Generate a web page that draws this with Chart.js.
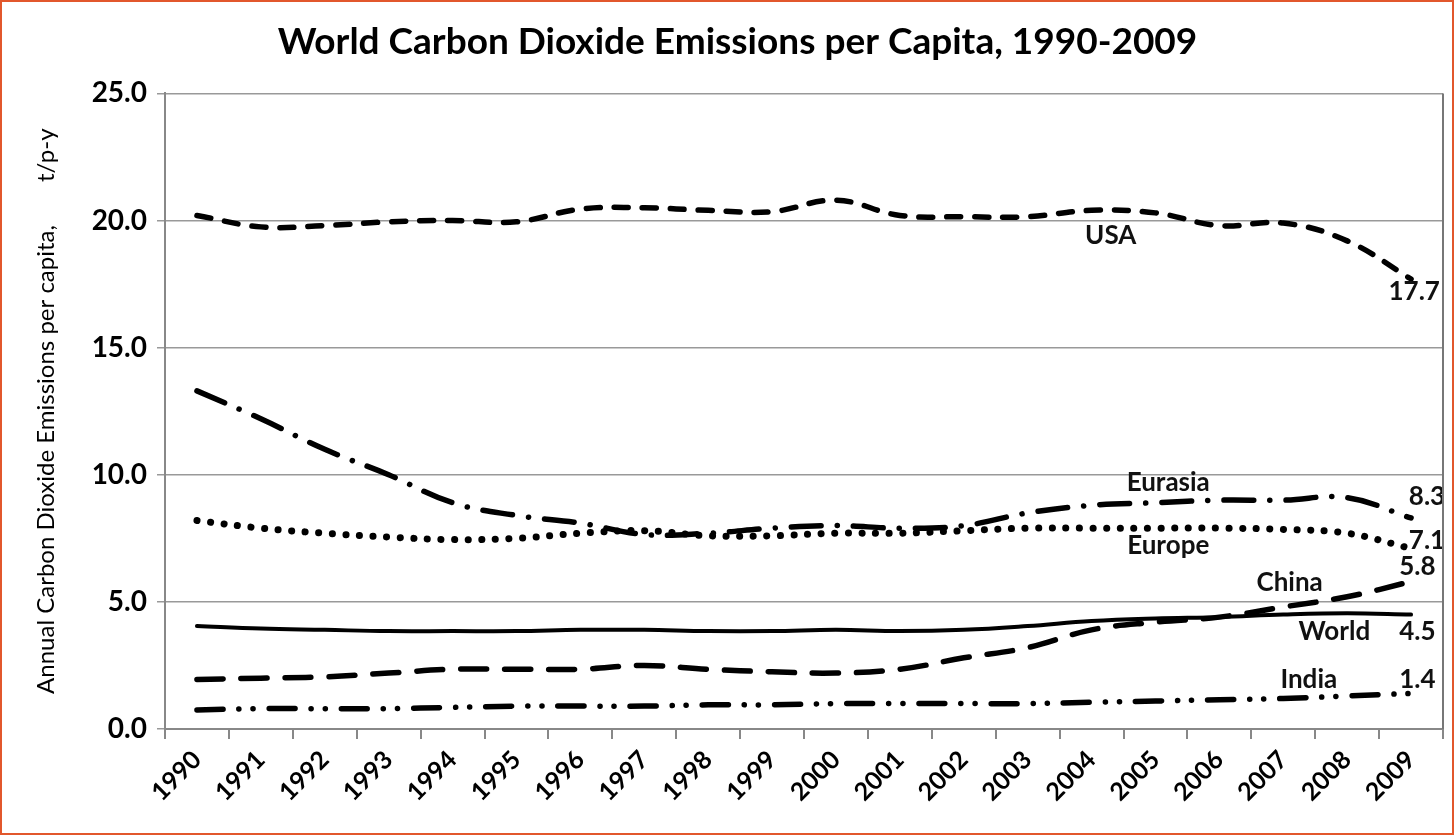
<!DOCTYPE html>
<html>
<head>
<meta charset="utf-8">
<script src="https://cdn.jsdelivr.net/npm/chart.js@4.4.1/dist/chart.umd.min.js"></script>
<style>
  html, body { margin: 0; padding: 0; background: #fff; }
  #wrap { position: absolute; left: 0; top: 0; width: 1450px; height: 831px; border: 2px solid #e2572c; background: #fff; }
</style>
</head>
<body>
<div id="wrap"><canvas id="myChart"></canvas></div>
<script>
const years = ["1990", "1991", "1992", "1993", "1994", "1995", "1996", "1997", "1998", "1999",
  "2000", "2001", "2002", "2003", "2004", "2005", "2006", "2007", "2008", "2009"];

const usa = [20.2, 19.75, 19.8, 19.95, 20.0, 19.95, 20.45, 20.5, 20.4, 20.35,
  20.8, 20.2, 20.15, 20.15, 20.4, 20.3, 19.8, 19.9, 19.2, 17.7];
const eurasia = [13.3, 12.2, 11.0, 10.0, 8.9, 8.4, 8.1, 7.65, 7.7, 7.9,
  8.0, 7.9, 8.0, 8.5, 8.8, 8.9, 9.0, 9.0, 9.1, 8.3];
const europe = [8.2, 7.9, 7.7, 7.55, 7.45, 7.5, 7.7, 7.8, 7.6, 7.6,
  7.7, 7.7, 7.8, 7.9, 7.9, 7.9, 7.9, 7.85, 7.7, 7.1];
const world = [4.05, 3.95, 3.9, 3.85, 3.85, 3.85, 3.9, 3.9, 3.85, 3.85,
  3.9, 3.85, 3.9, 4.05, 4.25, 4.35, 4.4, 4.5, 4.55, 4.5];
const china = [1.95, 2.0, 2.05, 2.2, 2.35, 2.35, 2.35, 2.5, 2.35, 2.25,
  2.2, 2.35, 2.8, 3.2, 3.9, 4.2, 4.4, 4.8, 5.2, 5.8];
const india = [0.75, 0.8, 0.8, 0.8, 0.85, 0.9, 0.9, 0.9, 0.95, 0.95,
  1.0, 1.0, 1.0, 1.0, 1.05, 1.1, 1.15, 1.2, 1.3, 1.4];

const yTicks = [0, 5, 10, 15, 20, 25];

// text labels placed in data units: [text, category position, value]
const notes = [
  ["USA", 14.3, 19.4],
  ["17.7", 19.05, 17.2],
  ["Eurasia", 15.2, 9.7],
  ["8.3", 19.25, 9.15],
  ["Europe", 15.2, 7.2],
  ["7.1", 19.25, 7.4],
  ["China", 17.1, 5.75],
  ["5.8", 19.1, 6.4],
  ["World", 17.8, 3.85],
  ["4.5", 19.1, 3.85],
  ["India", 17.4, 1.95],
  ["1.4", 19.1, 1.95],
];

const FONT = "Lato, 'Open Sans', sans-serif";

const notesPlugin = {
  id: "notes",
  afterDatasetsDraw(chart) {
    const c = chart.ctx;
    const xs = chart.scales.x;
    const ys = chart.scales.y;
    const step = xs.getPixelForValue(1) - xs.getPixelForValue(0);
    c.save();
    c.fillStyle = "#111";
    c.font = "bold 26px " + FONT;
    c.textAlign = "center";
    c.textBaseline = "middle";
    notes.forEach(([t, xi, v]) => {
      c.fillText(t, xs.getPixelForValue(0) + xi * step, ys.getPixelForValue(v));
    });
    // frame on the right side of the plot
    const a = chart.chartArea;
    c.strokeStyle = "#777";
    c.lineWidth = 2;
    c.beginPath();
    c.moveTo(a.right, a.top);
    c.lineTo(a.right, a.bottom);
    c.stroke();
    c.restore();
  },
};

function line(data, width, dash) {
  return {
    data: data,
    borderColor: "#000",
    borderWidth: width,
    borderDash: dash,
    borderCapStyle: "round",
    tension: 0.4,
    pointRadius: 0,
    fill: false,
  };
}

const ctx = document.getElementById("myChart").getContext("2d");

const myChart = new Chart(ctx, {
  type: "line",
  data: {
    labels: years,
    datasets: [
      line(usa, 5.5, [14, 14]),
      line(eurasia, 5.5, [30, 16, 0.1, 16]),
      line(europe, 7, [0.1, 13.5]),
      line(world, 4, []),
      line(china, 5.5, [26, 18]),
      line(india, 5.5, [26, 16, 0.1, 14, 0.1, 16]),
    ],
  },
  plugins: [notesPlugin],
  options: {
    responsive: true,
    maintainAspectRatio: false,
    animation: false,
    layout: { padding: { left: 30, right: 9, top: 0, bottom: 0 } },
    scales: {
      x: {
        offset: true,
        grid: {
          display: true,
          drawOnChartArea: false,
          offset: true,
          tickLength: 10,
          color: "#888",
          lineWidth: 2,
        },
        border: { color: "#888", width: 2 },
        ticks: {
          color: "#000",
          maxRotation: 45,
          minRotation: 45,
          padding: 6,
          font: { family: FONT, size: 25, weight: "bold" },
        },
        afterFit(scale) { scale.height = 104; },
      },
      y: {
        min: 0,
        max: 25,
        afterBuildTicks(scale) { scale.ticks = yTicks.map((v) => ({ value: v })); },
        grid: { color: "#999", lineWidth: 1.5, tickLength: 8 },
        border: { color: "#888", width: 2 },
        ticks: {
          color: "#000",
          padding: 10,
          font: { family: FONT, size: 28, weight: "bold" },
          callback: (v) => Number(v).toFixed(1),
        },
        title: {
          display: true,
          text: "Annual Carbon Dioxide Emissions per capita,       t/p-y",
          color: "#000",
          font: { family: FONT, size: 24 },
          padding: { top: 0, bottom: 8 },
        },
        afterFit(scale) { scale.width = 133; },
      },
    },
    plugins: {
      legend: { display: false },
      tooltip: { enabled: false },
      title: {
        display: true,
        text: "World Carbon Dioxide Emissions per Capita, 1990-2009",
        color: "#000",
        font: { family: FONT, size: 37, weight: "bold" },
        padding: { top: 18, bottom: 29 },
      },
    },
  },
});
</script>
</body>
</html>
